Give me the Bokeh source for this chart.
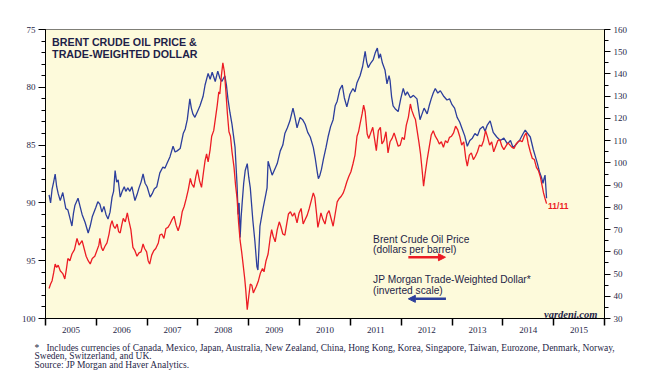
from bokeh.plotting import figure
from bokeh.models import (Range1d, LinearAxis, FixedTicker, Label, Arrow, NormalHead,
                          CustomJSTickFormatter, Title)
from bokeh.embed import file_html
from bokeh.resources import INLINE

# ---------------- data (decimal years) ----------------
dollar_t = [2005.07, 2005.10, 2005.13, 2005.16, 2005.19, 2005.22, 2005.25, 2005.29, 2005.34, 2005.40,
            2005.44, 2005.48, 2005.52, 2005.55, 2005.58, 2005.64, 2005.68, 2005.72, 2005.78, 2005.84,
            2005.88, 2005.92, 2005.99, 2006.03, 2006.07, 2006.11, 2006.15, 2006.19, 2006.23, 2006.27,
            2006.31, 2006.34, 2006.37, 2006.40, 2006.43, 2006.47, 2006.51, 2006.55, 2006.58, 2006.62,
            2006.66, 2006.70, 2006.76, 2006.80, 2006.84, 2006.88, 2006.92, 2006.96, 2007.00, 2007.06,
            2007.10, 2007.14, 2007.19, 2007.25, 2007.31, 2007.35, 2007.39, 2007.45, 2007.51, 2007.55,
            2007.59, 2007.65, 2007.71, 2007.75, 2007.79, 2007.84, 2007.87, 2007.90, 2007.94, 2008.00,
            2008.04, 2008.10, 2008.14, 2008.20, 2008.24, 2008.28, 2008.34, 2008.39, 2008.43, 2008.47,
            2008.53, 2008.56, 2008.59, 2008.63, 2008.67, 2008.73, 2008.77, 2008.79, 2008.81, 2008.83,
            2008.85, 2008.87, 2008.90, 2008.93, 2008.97, 2009.00, 2009.03, 2009.08, 2009.12, 2009.16,
            2009.18, 2009.20, 2009.22, 2009.28, 2009.32, 2009.36, 2009.38, 2009.42, 2009.46, 2009.52,
            2009.56, 2009.62, 2009.67, 2009.71, 2009.76, 2009.81, 2009.87, 2009.91, 2009.95, 2010.01,
            2010.06, 2010.11, 2010.16, 2010.21, 2010.27, 2010.31, 2010.35, 2010.37, 2010.40, 2010.43,
            2010.47, 2010.52, 2010.56, 2010.61, 2010.66, 2010.70, 2010.74, 2010.79, 2010.84, 2010.88,
            2010.93, 2010.99, 2011.05, 2011.09, 2011.13, 2011.19, 2011.24, 2011.29, 2011.32, 2011.35,
            2011.40, 2011.45, 2011.49, 2011.53, 2011.56, 2011.59, 2011.63, 2011.68, 2011.72, 2011.76,
            2011.78, 2011.81, 2011.84, 2011.89, 2011.94, 2011.99, 2012.04, 2012.08, 2012.12, 2012.18,
            2012.24, 2012.31, 2012.37, 2012.41, 2012.45, 2012.51, 2012.55, 2012.59, 2012.63, 2012.67,
            2012.72, 2012.77, 2012.84, 2012.90, 2012.95, 2013.00, 2013.05, 2013.10, 2013.15, 2013.20,
            2013.25, 2013.30, 2013.35, 2013.40, 2013.45, 2013.50, 2013.55, 2013.61, 2013.65, 2013.69,
            2013.75, 2013.81, 2013.88, 2013.95, 2014.02, 2014.09, 2014.15, 2014.20, 2014.27, 2014.34,
            2014.40, 2014.44, 2014.49, 2014.54, 2014.60, 2014.64, 2014.68, 2014.72, 2014.76, 2014.79,
            2014.81, 2014.83, 2014.85, 2014.86]
dollar_v = [89.3, 90.0, 88.8, 88.2, 87.5, 88.6, 89.2, 89.8, 89.1, 90.5,
            90.6, 91.3, 92.0, 90.9, 90.2, 89.6, 90.3, 91.0, 91.7, 92.6,
            92.0, 91.2, 90.4, 89.9, 90.1, 90.8, 90.3, 91.0, 91.4, 90.8,
            89.5, 89.0, 87.2, 88.2, 88.0, 89.5, 89.0, 88.6, 89.0, 88.7,
            89.0, 88.6, 89.8, 89.3, 88.7, 88.2, 87.5, 88.3, 88.6, 89.5,
            89.2, 88.8, 88.6, 87.4, 86.9, 87.0, 86.6, 86.0, 85.1, 85.6,
            85.5, 85.3, 84.0, 83.6, 82.8, 81.0, 81.8, 82.3, 82.6, 82.0,
            81.6, 80.8, 79.8, 78.8, 79.3, 78.7, 79.5, 78.6, 79.2, 79.5,
            79.0, 79.8, 81.0, 82.2, 83.2, 85.2, 88.5, 91.0, 90.0, 93.0,
            91.2, 90.0, 88.3, 87.2, 86.6, 87.8, 88.7, 91.5, 93.3, 95.5,
            95.8, 94.0, 92.0, 90.5, 89.6, 88.7, 86.4, 87.0, 87.6, 87.0,
            86.6, 85.5, 85.0, 84.0, 83.5, 82.9, 81.8, 82.6, 83.5, 82.6,
            82.8, 83.2, 83.9, 84.3, 85.2, 86.2, 87.4, 87.9, 87.6, 87.1,
            86.2, 85.2, 84.3, 83.4, 82.8, 81.6, 81.2, 80.2, 79.8, 80.9,
            81.7, 80.6, 80.1, 80.4, 79.6, 79.0, 78.2, 76.9, 77.8, 78.3,
            77.9, 77.6, 77.0, 76.6, 77.5, 77.1, 77.9, 78.5, 79.7, 79.0,
            79.4, 80.8, 81.6, 81.9, 82.1, 81.0, 80.1, 80.7, 80.4, 80.9,
            80.7, 81.0, 82.8, 82.3, 81.8, 82.3, 81.6, 81.0, 80.5, 80.1,
            80.5, 80.3, 80.8, 81.1, 81.0, 81.5, 81.8, 82.6, 83.0, 83.6,
            84.2, 85.1, 84.6, 84.4, 84.0, 84.2, 83.6, 83.4, 83.8, 83.3,
            82.9, 83.9, 84.3, 84.6, 84.4, 84.9, 84.6, 85.2, 84.9, 84.5,
            84.0, 83.7, 84.0, 84.3, 85.4, 86.0, 86.6, 87.3, 87.8, 88.3,
            87.9, 87.6, 88.9, 89.6]

brent_t = [2005.07, 2005.10, 2005.13, 2005.16, 2005.19, 2005.22, 2005.25, 2005.29, 2005.34, 2005.38,
           2005.41, 2005.44, 2005.48, 2005.52, 2005.57, 2005.62, 2005.66, 2005.72, 2005.76, 2005.80,
           2005.84, 2005.88, 2005.92, 2005.97, 2006.01, 2006.05, 2006.07, 2006.10, 2006.13, 2006.17,
           2006.21, 2006.25, 2006.28, 2006.31, 2006.34, 2006.37, 2006.41, 2006.44, 2006.47, 2006.50,
           2006.53, 2006.57, 2006.61, 2006.64, 2006.68, 2006.72, 2006.76, 2006.80, 2006.84, 2006.88,
           2006.92, 2006.95, 2006.99, 2007.02, 2007.05, 2007.09, 2007.13, 2007.17, 2007.22, 2007.25,
           2007.29, 2007.33, 2007.37, 2007.41, 2007.45, 2007.49, 2007.53, 2007.57, 2007.61, 2007.65,
           2007.69, 2007.73, 2007.77, 2007.81, 2007.85, 2007.88, 2007.92, 2007.96, 2007.99, 2008.03,
           2008.07, 2008.11, 2008.14, 2008.17, 2008.20, 2008.24, 2008.27, 2008.31, 2008.35, 2008.38,
           2008.41, 2008.43, 2008.46, 2008.49, 2008.52, 2008.55, 2008.58, 2008.61, 2008.64, 2008.67,
           2008.71, 2008.74, 2008.77, 2008.80, 2008.83, 2008.86, 2008.89, 2008.92, 2008.94, 2008.97,
           2009.00, 2009.03, 2009.06, 2009.09, 2009.12, 2009.15, 2009.19, 2009.23, 2009.27, 2009.30,
           2009.34, 2009.38, 2009.42, 2009.45, 2009.48, 2009.52, 2009.56, 2009.60, 2009.63, 2009.67,
           2009.71, 2009.75, 2009.78, 2009.82, 2009.86, 2009.90, 2009.95, 2009.99, 2010.03, 2010.07,
           2010.11, 2010.15, 2010.19, 2010.23, 2010.27, 2010.30, 2010.33, 2010.36, 2010.39, 2010.42,
           2010.46, 2010.50, 2010.54, 2010.58, 2010.62, 2010.66, 2010.70, 2010.74, 2010.78, 2010.82,
           2010.86, 2010.89, 2010.93, 2010.97, 2011.01, 2011.05, 2011.09, 2011.13, 2011.16, 2011.19,
           2011.23, 2011.26, 2011.29, 2011.33, 2011.36, 2011.40, 2011.44, 2011.48, 2011.51, 2011.55,
           2011.59, 2011.62, 2011.66, 2011.70, 2011.74, 2011.78, 2011.82, 2011.86, 2011.90, 2011.94,
           2011.98, 2012.02, 2012.06, 2012.10, 2012.14, 2012.18, 2012.21, 2012.25, 2012.28, 2012.31,
           2012.35, 2012.38, 2012.41, 2012.44, 2012.47, 2012.51, 2012.55, 2012.59, 2012.63, 2012.67,
           2012.71, 2012.75, 2012.79, 2012.83, 2012.87, 2012.91, 2012.95, 2012.99, 2013.03, 2013.07,
           2013.11, 2013.15, 2013.19, 2013.23, 2013.27, 2013.30, 2013.34, 2013.38, 2013.42, 2013.46,
           2013.50, 2013.54, 2013.58, 2013.62, 2013.66, 2013.70, 2013.74, 2013.78, 2013.82, 2013.86,
           2013.90, 2013.94, 2013.98, 2014.02, 2014.06, 2014.10, 2014.14, 2014.18, 2014.22, 2014.26,
           2014.30, 2014.34, 2014.38, 2014.42, 2014.46, 2014.50, 2014.54, 2014.58, 2014.62, 2014.66,
           2014.70, 2014.74, 2014.77, 2014.80, 2014.83, 2014.86]
brent_v = [43.5, 45.5, 47.0, 50.5, 54.5, 53.0, 54.0, 51.5, 50.2, 47.8,
           52.0, 57.0, 56.0, 59.0, 61.0, 66.0, 63.0, 65.0, 61.5, 58.0,
           56.0, 54.5, 57.0, 58.0, 60.5, 63.0, 66.0, 62.0, 60.5, 62.5,
           64.0, 68.0, 72.0, 74.0, 71.5, 70.5, 72.5, 69.0, 68.5, 72.0,
           75.0, 73.5, 77.5, 74.0, 70.0, 62.0, 60.5, 58.0, 59.5, 60.0,
           63.5, 61.5, 60.0, 56.0, 54.5, 58.5, 60.5, 61.5, 64.0, 67.5,
           68.0, 66.0, 70.5, 71.0, 72.5, 74.5, 76.0, 72.0, 69.5, 72.5,
           78.0, 80.5, 84.0, 88.0, 93.0, 90.5, 89.0, 94.0, 97.0, 92.0,
           89.0, 96.0, 101.0, 104.0, 100.5, 106.0, 112.0, 114.5, 121.0, 126.0,
           132.0, 131.0, 139.0, 145.0, 141.0, 132.0, 122.0, 114.0, 112.0, 105.0,
           98.0, 90.0, 84.0, 73.0, 65.0, 60.0, 54.0, 48.0, 43.0, 34.0,
           40.0, 45.5, 45.0, 41.5, 43.0, 44.5, 47.0, 50.5, 52.5, 51.0,
           56.0, 59.0, 66.0, 70.0, 67.0, 64.5, 70.0, 73.5, 71.5, 68.0,
           67.5, 73.0, 77.0, 78.0, 76.0, 77.5, 73.0, 77.5, 79.5, 72.5,
           74.5, 76.5, 79.5, 83.0, 86.5, 84.5, 78.0, 71.0, 74.0, 77.5,
           74.5, 72.5, 77.0, 78.5, 75.0, 71.5, 77.0, 82.5, 84.0, 85.0,
           86.5, 88.5, 91.5, 94.0, 96.0, 99.5, 103.5, 112.0, 114.0, 117.5,
           122.0, 126.0, 123.0, 113.0, 111.0, 113.5, 116.0, 110.0, 105.5, 114.5,
           116.0, 108.5, 110.0, 114.0, 104.5, 109.5, 111.0, 113.5, 110.5, 107.5,
           108.0, 111.5, 110.5, 117.0, 120.5, 126.5, 123.5, 121.0, 119.5, 115.0,
           109.0, 104.0, 97.0, 89.5, 95.0, 101.5, 107.0, 112.5, 114.5, 112.0,
           110.5, 108.5, 109.5, 107.0, 110.0, 109.0, 111.5, 112.0, 113.5, 116.5,
           115.0, 112.0, 108.0, 109.5, 102.0, 98.5, 103.5, 104.5, 101.5, 103.0,
           105.0, 108.0, 107.5, 110.0, 114.5, 111.5, 108.0, 109.5, 105.0, 107.5,
           110.0, 110.5, 107.5, 106.0, 107.5, 109.0, 108.0, 107.0, 106.5, 108.5,
           109.5, 110.0, 109.5, 112.0, 113.5, 108.5, 105.0, 102.0, 101.5, 98.0,
           96.5, 93.5, 90.0, 86.5, 84.0, 81.7]

year_label_ticks = [2005.5, 2006.5, 2007.5, 2008.5, 2009.5, 2010.5, 2011.5, 2012.5, 2013.5, 2014.5, 2015.5]
year_bounds = [2005, 2006, 2007, 2008, 2009, 2010, 2011, 2012, 2013, 2014, 2015, 2016]
left_ticks = [75, 80, 85, 90, 95, 100]
left_minor = list(range(75, 101))
right_ticks = list(range(30, 161, 10))
right_minor = list(range(30, 161, 5))

footnote_lines = [
    "*\u00a0\u00a0\u00a0Includes currencies of Canada, Mexico, Japan, Australia, New Zealand, China, Hong Kong, "
    "Korea, Singapore, Taiwan, Eurozone, Denmark, Norway,",
    "Sweden, Switzerland, and UK.",
    "Source: JP Morgan and Haver Analytics.",
]

TXT = "#1f1f48"
BLUE = "#2c3e9c"
RED = "#ec1c24"

p = figure(width=640, height=380, output_backend="svg", toolbar_location=None,
           x_range=Range1d(2005, 2016), y_range=Range1d(100, 75),
           min_border_left=45, min_border_right=36, min_border_top=29, min_border_bottom=62,
           background_fill_color="#fdfadb", border_fill_color="white")
p.xgrid.visible = False
p.ygrid.visible = False
p.outline_line_color = "black"
p.outline_line_dash = "1 1"
p.outline_line_width = 1
p.extra_y_ranges = {"oil": Range1d(30, 160)}

# x axis
xa = p.xaxis[0]
xa.ticker = FixedTicker(ticks=year_label_ticks, minor_ticks=year_bounds)
xa.formatter = CustomJSTickFormatter(code="return String(Math.floor(tick));")
xa.major_tick_out = 0
xa.major_tick_in = 0
xa.minor_tick_out = 7
xa.minor_tick_in = 0
xa.minor_tick_line_width = 1.5
xa.major_label_standoff = 1
xa.axis_line_color = "black"

# left axis
ya = p.yaxis[0]
ya.ticker = FixedTicker(ticks=left_ticks, minor_ticks=left_minor)
ya.major_tick_out = 7
ya.major_tick_in = 0
ya.minor_tick_out = 4
ya.minor_tick_in = 0
ya.major_label_standoff = 3
ya.axis_line_color = "black"

# right axis
ra = LinearAxis(y_range_name="oil", ticker=FixedTicker(ticks=right_ticks, minor_ticks=right_minor))
ra.major_tick_out = 6
ra.major_tick_in = 0
ra.minor_tick_out = 4
ra.minor_tick_in = 0
ra.major_label_standoff = 3
ra.axis_line_color = "black"
p.add_layout(ra, "right")

for ax in (xa, ya, ra):
    ax.major_label_text_font = "Liberation Serif"
    ax.major_label_text_font_size = "9px"
    ax.major_label_text_color = TXT
    ax.major_tick_line_color = "black"
    ax.minor_tick_line_color = "black"

p.line(dollar_t, dollar_v, line_color=BLUE, line_width=1.3)
p.line(brent_t, brent_v, y_range_name="oil", line_color=RED, line_width=1.3)

def lab(x, y, text, size, color=TXT, font="Liberation Sans", style="normal", align="left",
        baseline="alphabetic"):
    p.add_layout(Label(x=x, y=y, text=text, text_font=font, text_font_size=size,
                       text_color=color, text_font_style=style, text_align=align,
                       text_baseline=baseline))

lab(2005.13, 76.07, "BRENT CRUDE OIL PRICE &", "10.7px", style="bold")
lab(2005.13, 77.10, "TRADE-WEIGHTED DOLLAR", "10.7px", style="bold")

lab(2011.447, 93.17, "Brent Crude Oil Price", "10.2px")
lab(2011.447, 94.06, "(dollars per barrel)", "10.2px")
lab(2011.447, 96.65, "JP Morgan Trade-Weighted Dollar*", "10.2px")
lab(2011.447, 97.58, "(inverted scale)", "10.2px")

p.add_layout(Arrow(end=NormalHead(size=7, fill_color=RED, line_color=RED),
                   x_start=2012.14, y_start=94.70, x_end=2012.87, y_end=94.70,
                   line_color=RED, line_width=2.5))
p.add_layout(Arrow(end=NormalHead(size=7, fill_color=BLUE, line_color=BLUE),
                   x_start=2012.88, y_start=98.30, x_end=2012.14, y_end=98.30,
                   line_color=BLUE, line_width=2.5))

lab(2014.89, 90.31, "11/11", "8.5px", color=RED, style="bold")
lab(2015.86, 99.65, "yardeni.com", "10.5px", font="Liberation Serif", style="bold italic", align="right")

# footnote block below the axis
note = Title(text="\n".join(footnote_lines), align="left", text_font="Liberation Serif",
             text_font_size="9.5px", text_font_style="normal", text_color=TXT,
             text_line_height=0.87, standoff=11, offset=-11)
p.add_layout(note, "below")

open("out.html", "w").write(file_html(p, INLINE))
